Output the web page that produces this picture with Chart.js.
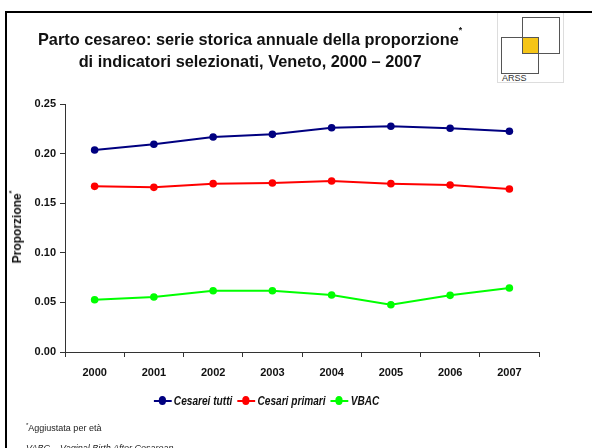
<!DOCTYPE html>
<html><head><meta charset="utf-8">
<script src="https://cdn.jsdelivr.net/npm/chart.js@4/dist/chart.umd.min.js"></script>
<style>
html,body{margin:0;padding:0;background:#fff;}
body{width:592px;height:448px;position:relative;overflow:hidden;font-family:"Liberation Sans",Arial,sans-serif;}
#frameTop{position:absolute;left:5px;top:11px;width:600px;height:2px;background:#000;}
#frameLeft{position:absolute;left:5px;top:11px;width:2px;height:450px;background:#000;}
#c{position:absolute;left:0;top:0;}
.title{position:absolute;left:0;width:500px;text-align:center;font-weight:bold;font-size:17px;color:#111;transform:scaleX(0.96);transform-origin:252px 0;white-space:nowrap;}
.ytitle{position:absolute;left:17px;top:227px;transform:translate(-50%,-50%) rotate(-90deg);font-weight:bold;font-size:12px;white-space:nowrap;color:#111;}
#legend{position:absolute;top:394px;left:0;width:592px;text-align:center;font-style:italic;font-weight:bold;font-size:12.5px;color:#111;white-space:nowrap;transform:translateX(-24px) scaleX(0.81);transform-origin:267px 0;}
#legend span.item{display:inline-block;margin:0 3px;}
#legend i.sw{display:inline-block;position:relative;width:22px;height:2px;vertical-align:middle;margin-right:3px;top:-1px;}
#legend i.sw b{position:absolute;left:6px;top:-3.5px;width:9px;height:9px;border-radius:50%;}
.foot{position:absolute;left:26px;font-size:9px;color:#222;white-space:nowrap;}
#logo{position:absolute;left:497px;top:13px;width:65px;height:69px;border:1px solid #ddd;border-top:none;background:#fff;}
.sq{position:absolute;border:1.5px solid #555;box-sizing:border-box;}
</style></head>
<body>
<div id="frameTop"></div><div id="frameLeft"></div>
<canvas id="c" width="592" height="448"></canvas>
<div class="title" style="top:30px;">Parto cesareo: serie storica annuale della proporzione<sup style="font-size:9px;position:relative;top:-5px;">*</sup></div>
<div class="title" style="top:52px;">di indicatori selezionati, Veneto, 2000 – 2007</div>
<div class="ytitle">Proporzione<sup style="font-size:7px;position:relative;top:-2px;">*</sup></div>
<div id="logo">
  <div class="sq" style="left:24px;top:4px;width:38px;height:37px;"></div>
  <div style="position:absolute;left:25px;top:24px;width:16px;height:16px;background:#f5c518;"></div>
  <div class="sq" style="left:3px;top:24px;width:38px;height:37px;"></div>
  <div class="sq" style="left:24px;top:4px;width:38px;height:37px;background:transparent;"></div>
  <div style="position:absolute;left:4px;top:61px;font-size:9px;color:#333;line-height:9px;">ARSS</div>
</div>
<div id="legend"></div>
<div class="foot" style="top:422px;"><sup style="font-size:6px;">*</sup>Aggiustata per età</div>
<div class="foot" style="top:443px;font-style:italic;">VABC – Vaginal Birth After Cesarean</div>
<script>
const years = ["2000","2001","2002","2003","2004","2005","2006","2007"];
const cesareiTutti = [0.2036,0.2094,0.2167,0.2194,0.2261,0.2275,0.2255,0.2225];
const cesariPrimari = [0.1670,0.1660,0.1697,0.1704,0.1724,0.1697,0.1683,0.1643];
const vbac = [0.0527,0.0554,0.0618,0.0618,0.0575,0.0477,0.0571,0.0645];
const seriesNames = ["Cesarei tutti","Cesari primari","VBAC"];
const seriesColors = ["#000080","#ff0000","#00ff00"];
const yTicks = [0,0.05,0.10,0.15,0.20,0.25];

const allData=[cesareiTutti,cesariPrimari,vbac];
const datasets = allData.map((d,i)=>({
  label:seriesNames[i], data:d, borderColor:seriesColors[i], backgroundColor:seriesColors[i],
  borderWidth:2, pointRadius:3.8, pointHoverRadius:3.8, tension:0, pointBorderWidth:0
}));

const lg=document.getElementById('legend');
seriesNames.forEach((n,i)=>{
  const s=document.createElement('span'); s.className='item';
  s.innerHTML='<i class="sw" style="background:'+seriesColors[i]+'"><b style="background:'+seriesColors[i]+'"></b></i>'+n;
  lg.appendChild(s);
});

const font={family:'"Liberation Sans", Arial, sans-serif',size:11,weight:'bold'};
new Chart(document.getElementById('c'),{
  type:'line',
  data:{labels:years,datasets},
  options:{
    responsive:false,animation:false,
    layout:{padding:{left:0,top:104,right:53,bottom:66}},
    plugins:{legend:{display:false},tooltip:{enabled:false}},
    scales:{
      x:{offset:true,
        grid:{offset:true,drawOnChartArea:false,tickLength:5,color:'#333',lineWidth:1},
        border:{color:'#333',width:1},
        ticks:{font,color:'#111',padding:9,maxRotation:0},
        afterFit:s=>{s.height=30;}
      },
      y:{min:0,max:0.25,
        afterBuildTicks:s=>{s.ticks=yTicks.map(v=>({value:v}));},
        grid:{drawOnChartArea:false,tickLength:5,color:'#333'},
        border:{color:'#333',width:1},
        ticks:{font,color:'#111',padding:4,callback:v=>v.toFixed(2)},
        afterFit:s=>{s.width=65;}
      }
    }
  }
});
</script>
</body></html>
